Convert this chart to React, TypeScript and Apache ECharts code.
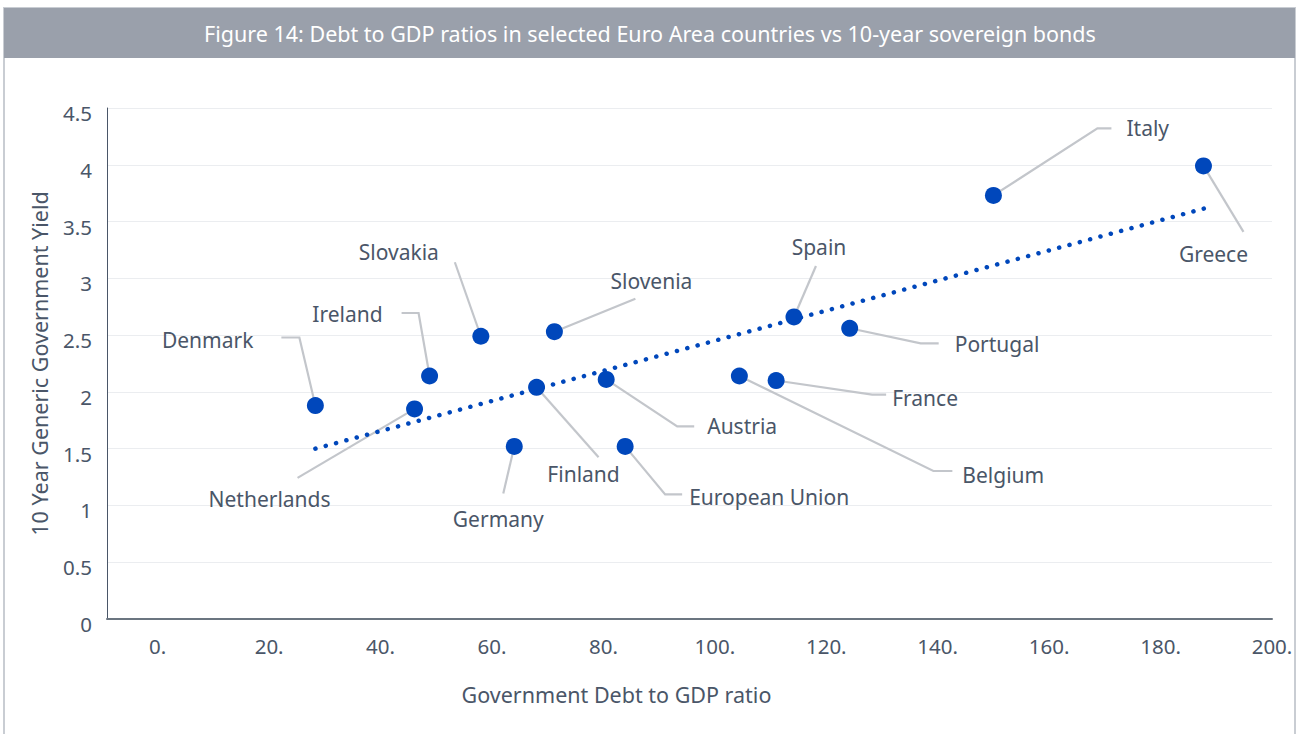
import React, { useEffect, useRef } from "react";
import * as echarts from "echarts";

const countries = [
  "Denmark", "Netherlands", "Ireland", "Slovakia", "Slovenia", "Finland", "Germany",
  "Austria", "European Union", "Belgium", "France", "Portugal", "Spain", "Italy", "Greece",
];
const debtToGdp = [28.3, 46.1, 48.8, 58.0, 71.2, 68.0, 64.0, 80.5, 83.9, 104.4, 111.0, 124.2, 114.2, 150.0, 187.7];
const yield10y = [1.88, 1.85, 2.14, 2.49, 2.53, 2.04, 1.52, 2.11, 1.52, 2.14, 2.10, 2.56, 2.66, 3.73, 3.99];
const trendX = [28.3, 188.2];
const trendY = [1.5, 3.62];
const xTicks = [0, 20, 40, 60, 80, 100, 120, 140, 160, 180, 200];

// label leader layout (pixel offsets from the point)
const labelLayout: { line: number[][]; text: number[]; align: string }[] = [
  { line: [[-16, -68], [-34, -68]], text: [-62, -66], align: "right" },
  { line: [[-117, 69]], text: [-145, 90], align: "center" },
  { line: [[-11, -63], [-28, -63]], text: [-47, -62], align: "right" },
  { line: [[-26, -74]], text: [-82, -84], align: "center" },
  { line: [[81, -33]], text: [97, -51], align: "center" },
  { line: [[62, 70]], text: [47, 87], align: "center" },
  { line: [[-11, 47]], text: [-16, 73], align: "center" },
  { line: [[71, 47], [88, 47]], text: [101, 47], align: "left" },
  { line: [[40, 48], [57, 48]], text: [64, 51], align: "left" },
  { line: [[194, 95], [213, 95]], text: [223, 99], align: "left" },
  { line: [[96, 14], [110, 14]], text: [116, 17], align: "left" },
  { line: [[71, 15], [89, 15]], text: [105, 16], align: "left" },
  { line: [[22, -51]], text: [25, -70], align: "center" },
  { line: [[104, -67], [118, -67]], text: [133, -67], align: "left" },
  { line: [[40, 66]], text: [10, 88], align: "center" },
];

const FONT = "'Source Sans Pro', 'Noto Sans', sans-serif";
const TEXT = "#4a5668";
const BLUE = "#0047bb";

export default function App() {
  const ref = useRef<HTMLDivElement>(null);
  useEffect(() => {
    if (!ref.current) return;
    const chart = echarts.init(ref.current, null, { renderer: "svg" });
    const points = countries.map((_, i) => [debtToGdp[i], yield10y[i]]);
    chart.setOption({
      animation: false,
      backgroundColor: "#ffffff",
      textStyle: { fontFamily: FONT },
      graphic: [
        {
          type: "rect",
          shape: { x: 4, y: 8, width: 1291, height: 740 },
          style: { fill: "none", stroke: "#c9cdd3", lineWidth: 2 },
          z: 0,
        },
        {
          type: "rect",
          shape: { x: 4, y: 8, width: 1291, height: 50 },
          style: { fill: "#9aa0ab" },
          z: 1,
        },
        {
          type: "text",
          x: 650,
          y: 33,
          style: {
            text: "Figure 14: Debt to GDP ratios in selected Euro Area countries vs 10-year sovereign bonds",
            fill: "#ffffff",
            fontSize: 21.5,
            fontFamily: FONT,
            align: "center",
            verticalAlign: "middle",
          },
          z: 2,
        },
      ],
      grid: { left: 107, right: 27, top: 108, bottom: 115, containLabel: false },
      xAxis: {
        type: "value",
        min: -9.1,
        max: 200,
        name: "Government Debt to GDP ratio",
        nameLocation: "middle",
        nameGap: 64,
        nameTextStyle: { color: TEXT, fontSize: 21.5, fontFamily: FONT, padding: [0, 146, 0, 0] },
        axisLine: { show: true, lineStyle: { color: "#6b7580", width: 2 } },
        axisTick: { show: false },
        splitLine: { show: false },
        axisLabel: {
          customValues: xTicks,
          formatter: (v: number) => v + ".",
          color: TEXT,
          fontSize: 20.5,
          fontFamily: FONT,
          margin: 16,
          showMaxLabel: true,
          showMinLabel: true,
        },
      },
      yAxis: {
        type: "value",
        min: 0,
        max: 4.5,
        interval: 0.5,
        name: "10 Year Generic Government Yield",
        nameLocation: "middle",
        nameGap: 57,
        nameTextStyle: { color: TEXT, fontSize: 21.5, fontFamily: FONT },
        axisLine: { show: true, onZero: false, lineStyle: { color: "#4a5668", width: 1 } },
        axisTick: { show: false },
        splitLine: { show: true, lineStyle: { color: "#ebedf0", width: 1 } },
        axisLabel: {
          color: TEXT,
          fontSize: 20.5,
          fontFamily: FONT,
          margin: 15,
          formatter: "{a|{value}}",
          rich: { a: { color: TEXT, fontSize: 20.5, fontFamily: FONT, padding: [10, 0, 0, 0] } },
        },
      },
      series: [
        {
          type: "custom",
          name: "labels",
          clip: false,
          z: 1,
          data: points,
          renderItem: (params: any, api: any) => {
            const i = params.dataIndex;
            const p = api.coord([api.value(0), api.value(1)]);
            const L = labelLayout[i];
            return {
              type: "group",
              children: [
                {
                  type: "polyline",
                  shape: { points: [p, ...L.line.map((d) => [p[0] + d[0], p[1] + d[1]])] },
                  style: { stroke: "#c3c6cb", lineWidth: 2.2, fill: null },
                },
                {
                  type: "text",
                  x: p[0] + L.text[0],
                  y: p[1] + L.text[1],
                  style: {
                    text: countries[i],
                    fill: TEXT,
                    fontSize: 21,
                    fontFamily: FONT,
                    align: L.align,
                    verticalAlign: "middle",
                  },
                },
              ],
            };
          },
        },
        {
          type: "line",
          name: "trend",
          z: 2,
          symbol: "none",
          data: trendX.map((x, i) => [x, trendY[i]]),
          lineStyle: { color: BLUE, width: 4.5, type: [0.1, 10.6], cap: "round" },
        },
        {
          type: "scatter",
          name: "countries",
          z: 3,
          symbol: "circle",
          symbolSize: 17,
          itemStyle: { color: BLUE, opacity: 1 },
          data: points,
        },
      ],
    });
    return () => chart.dispose();
  }, []);
  return (
    <div
      ref={ref}
      style={{ position: "absolute", left: 0, top: 0, width: 1299, height: 734 }}
    />
  );
}
